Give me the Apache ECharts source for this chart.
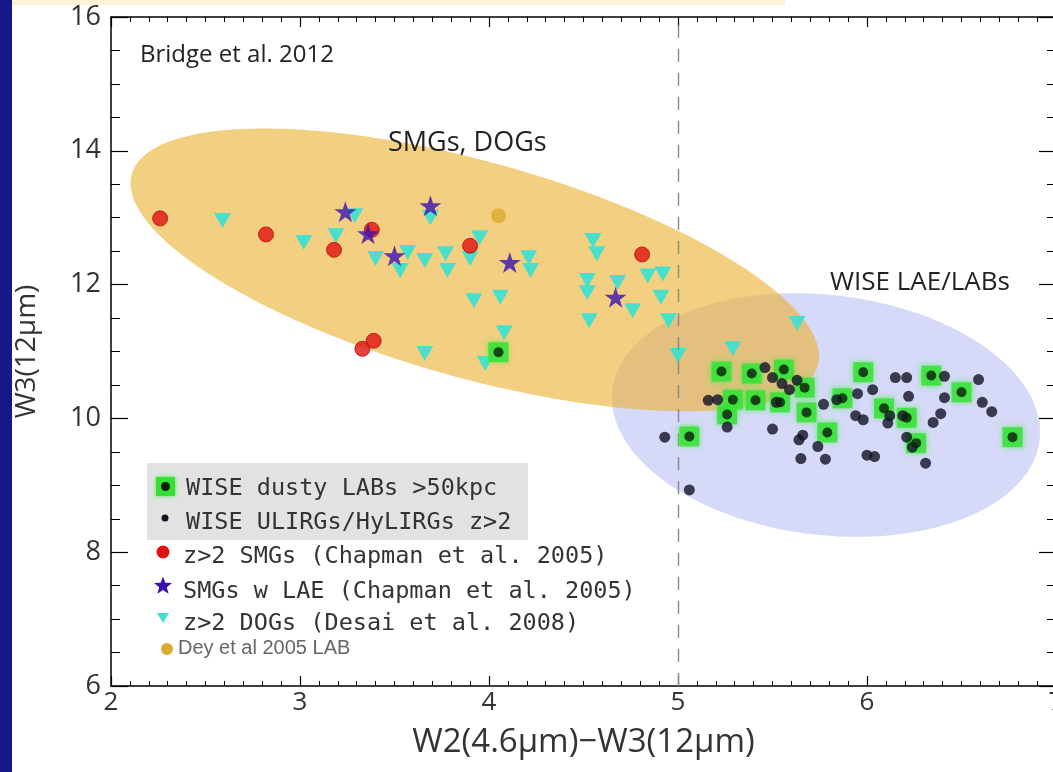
<!DOCTYPE html>
<html>
<head>
<meta charset="utf-8">
<script src="https://cdn.jsdelivr.net/npm/echarts@6/dist/echarts.min.js"></script>
<style>
  html, body { margin: 0; padding: 0; background: #fff; }
  #chart { width: 1053px; height: 772px; }
</style>
</head>
<body>
<div id="chart"></div>
<script>
// W2-W3 colour vs W3 magnitude (Bridge et al. 2012)

// Axis ranges and ticks
const xRange = [2, 7];
const yRange = [6, 16];
const xStep = 1;
const yStep = 2;
const colourCut = 5; // dashed W2-W3 divider

// Population regions: centre (x, y) and two conjugate semi-axis vectors, in data units
const regionLAE = [5.783, 10.05, 1.130, -0.375, -0.074, -1.782];
const regionSMG = [3.925, 12.22, 1.815, -1.43, -0.153, -1.556];

// WISE dusty LABs >50kpc
const dustyLABs = [
  [4.05, 10.99], [5.23, 10.70], [5.39, 10.67], [5.56, 10.73], [5.67, 10.46],
  [5.29, 10.28], [5.41, 10.27], [5.54, 10.24], [5.26, 10.06], [5.68, 10.09],
  [5.06, 9.73], [5.79, 9.79], [5.87, 10.30], [5.98, 10.69], [6.34, 10.64],
  [6.50, 10.39], [6.09, 10.15], [6.21, 10.01], [6.26, 9.63], [6.77, 9.72]
];

// WISE ULIRGs/HyLIRGs z>2
const wiseULIRGs = [
  [5.46, 10.76], [5.50, 10.61], [5.55, 10.52], [5.59, 10.43], [5.63, 10.57],
  [5.16, 10.27], [5.21, 10.28], [5.26, 9.87], [5.50, 9.84], [5.52, 10.24],
  [5.77, 10.21], [5.84, 10.28], [4.93, 9.72], [5.66, 9.75], [5.64, 9.68],
  [5.74, 9.58], [5.65, 9.40], [5.78, 9.39], [5.06, 8.93],
  [6.15, 10.61], [6.21, 10.61], [6.03, 10.43], [5.95, 10.37], [6.22, 10.33],
  [6.41, 10.63], [6.41, 10.31], [6.59, 10.58], [6.61, 10.24], [6.66, 10.10],
  [5.94, 10.04], [5.98, 9.98], [6.12, 10.04], [6.11, 9.93], [6.19, 10.04],
  [6.39, 10.07], [6.35, 9.94], [6.21, 9.72], [6.24, 9.57], [6.00, 9.45],
  [6.04, 9.43], [6.31, 9.33]
];

// z>2 SMGs (Chapman et al. 2005)
const chapmanSMGs = [
  [2.26, 12.99], [2.82, 12.75], [3.18, 12.52], [3.38, 12.82],
  [3.90, 12.58], [4.81, 12.45], [3.33, 11.04], [3.39, 11.16]
];

// SMGs with LAE (Chapman et al. 2005)
const smgLAEs = [
  [3.24, 13.09], [3.36, 12.76], [3.69, 13.18], [3.50, 12.43], [4.11, 12.33], [4.67, 11.81]
];

// z>2 DOGs (Desai et al. 2008)
const desaiDOGs = [
  [2.59, 12.96], [3.02, 12.63], [3.19, 12.73], [3.29, 13.03], [3.40, 12.39],
  [3.53, 12.21], [3.57, 12.48], [3.66, 12.36], [3.69, 13.00], [3.77, 12.46],
  [3.78, 12.21], [3.90, 12.39], [3.95, 12.70], [3.92, 11.76], [4.06, 11.81],
  [3.66, 10.97], [3.98, 10.82], [4.08, 11.28], [4.21, 12.40], [4.22, 12.21],
  [4.55, 12.66], [4.57, 12.46], [4.52, 12.06], [4.52, 11.88], [4.53, 11.46],
  [4.68, 12.03], [4.76, 11.61], [4.84, 12.13], [4.92, 12.16], [4.91, 11.81],
  [4.95, 11.46], [5.00, 10.94], [5.29, 11.04], [5.63, 11.42]
];

// Dey et al 2005 LAB
const deyLAB = [[4.05, 13.03]];

// Legend rows
const legendRows = [
  'WISE dusty LABs >50kpc',
  'WISE ULIRGs/HyLIRGs z>2',
  'z>2 SMGs (Chapman et al. 2005)',
  'SMGs w LAE (Chapman et al. 2005)',
  'z>2 DOGs (Desai et al. 2008)',
  'Dey et al 2005 LAB'
];

const STAR = 'path://M50,0 L61.2,34.5 L97.6,34.5 L68.2,55.9 L79.4,90.5 L50,69.1 L20.6,90.5 L31.8,55.9 L2.4,34.5 L38.8,34.5 Z';
const TRI_DOWN = 'path://M0,0 L100,0 L50,86 Z';
const SANS = '"Open Sans", "DejaVu Sans", sans-serif';
const LEG = '"DejaVu Sans Mono", monospace';

function ellipseItem(fill) {
  return function (params, api) {
    const cx = api.value(0), cy = api.value(1);
    const ax = api.value(2), ay = api.value(3);
    const bx = api.value(4), by = api.value(5);
    const pts = [];
    const n = 200;
    for (let i = 0; i < n; i++) {
      const t = (i / n) * Math.PI * 2;
      pts.push(api.coord([cx + ax * Math.cos(t) + bx * Math.sin(t),
                          cy + ay * Math.cos(t) + by * Math.sin(t)]));
    }
    return { type: 'polygon', shape: { points: pts }, style: { fill: fill } };
  };
}

// Five-pointed star outline around (cx, cy)
function starPoints(cx, cy, rOuter, rInner) {
  const pts = [];
  for (let i = 0; i < 10; i++) {
    const r = i % 2 === 0 ? rOuter : rInner;
    const a = -Math.PI / 2 + i * Math.PI / 5;
    pts.push([cx + r * Math.cos(a), cy + r * Math.sin(a)]);
  }
  return pts;
}

function baseX(pos, showLabels) {
  return {
    type: 'value', min: xRange[0], max: xRange[1], interval: xStep, position: pos,
    axisLine: { show: true, onZero: false, lineStyle: { color: '#000', width: 1.5 } },
    axisTick: { show: true, inside: true, length: 10, lineStyle: { color: '#000', width: 1.2 } },
    minorTick: { show: true, splitNumber: 10, length: 5, lineStyle: { color: '#000', width: 1 } },
    splitLine: { show: false },
    axisLabel: { show: showLabels, margin: 4, fontFamily: SANS, fontSize: 26, color: '#333',
                 showMinLabel: true, showMaxLabel: true, hideOverlap: false }
  };
}
function baseY(pos, showLabels) {
  return {
    type: 'value', min: yRange[0], max: yRange[1], interval: yStep, position: pos,
    axisLine: { show: true, onZero: false, lineStyle: { color: '#000', width: 1.5 } },
    axisTick: { show: true, inside: true, length: 17, lineStyle: { color: '#000', width: 1.2 } },
    minorTick: { show: true, splitNumber: 4, length: 9, lineStyle: { color: '#000', width: 1 } },
    splitLine: { show: false },
    axisLabel: { show: showLabels, margin: 10, fontFamily: SANS, fontSize: 27, color: '#333',
                 showMinLabel: true, showMaxLabel: true }
  };
}

const xMain = baseX('bottom', true);
Object.assign(xMain, {
  name: 'W2(4.6\u03bcm)\u2212W3(12\u03bcm)', nameLocation: 'middle', nameGap: 40,
  nameTextStyle: { fontFamily: SANS, fontSize: 33, color: '#333' }
});
const yMain = baseY('left', true);
Object.assign(yMain, {
  name: 'W3(12\u03bcm)', nameLocation: 'middle', nameGap: 70, nameRotate: 90,
  nameTextStyle: { fontFamily: SANS, fontSize: 28, color: '#333' }
});

// Legend drawn as graphic elements (icon + text per row)
const rowY = [487, 521, 555, 590, 622, 648];
const legendGraphics = [
  { type: 'rect', shape: { x: 147, y: 463, width: 381, height: 77 }, style: { fill: '#e2e2e2' }, z: 1 },
  { type: 'rect', shape: { x: 156, y: rowY[0] - 10, width: 19, height: 19 },
    style: { fill: '#35e035', shadowBlur: 4, shadowColor: '#4cf04c' }, z: 2 },
  { type: 'circle', shape: { cx: 165.5, cy: rowY[0] - 0.5, r: 4.5 }, style: { fill: '#0b1d0b' }, z: 3 },
  { type: 'circle', shape: { cx: 165, cy: rowY[1] - 3, r: 3.5 }, style: { fill: '#111122' }, z: 3 },
  { type: 'circle', shape: { cx: 163, cy: rowY[2] - 3, r: 6.5 }, style: { fill: '#e01010' }, z: 3 },
  { type: 'polygon', shape: { points: starPoints(163, rowY[3] - 4, 9.5, 4) }, style: { fill: '#3a10b0' }, z: 3 },
  { type: 'polygon', shape: { points: [[157, rowY[4] - 9], [169, rowY[4] - 9], [163, rowY[4] + 1]] },
    style: { fill: '#3fe0cf' }, z: 3 },
  { type: 'circle', shape: { cx: 167, cy: rowY[5] + 1, r: 6 }, style: { fill: '#d8aa30' }, z: 3 }
];
const textX = [186, 186, 183, 183, 183, 178];
legendRows.forEach((t, i) => {
  const last = i === legendRows.length - 1;
  legendGraphics.push({
    type: 'text', z: 3,
    style: {
      text: t, x: textX[i], y: rowY[i] + (last ? 0 : 2),
      fontFamily: last ? '"Liberation Sans", Arial, sans-serif' : LEG,
      fontSize: last ? 20 : 23.5, fontWeight: 'normal',
      fill: last ? '#666' : '#333', verticalAlign: 'middle', align: 'left'
    }
  });
});

const annotationGraphics = [
  { type: 'rect', shape: { x: 0, y: 0, width: 12, height: 772 }, style: { fill: '#17178c' }, z: 10 },
  { type: 'rect', shape: { x: 12, y: 0, width: 773, height: 5 }, style: { fill: '#faf3d4' }, z: 10 },
  { type: 'text', z: 3, style: { text: 'Bridge et al. 2012', x: 140, y: 55, fontFamily: SANS, fontSize: 24,
      fill: '#222', verticalAlign: 'middle' } },
  { type: 'text', z: 3, style: { text: 'SMGs, DOGs', x: 388, y: 143, fontFamily: SANS, fontSize: 27,
      fill: '#222', verticalAlign: 'middle' } },
  { type: 'text', z: 3, style: { text: 'WISE LAE/LABs', x: 830, y: 283, fontFamily: SANS, fontSize: 26,
      fill: '#222', verticalAlign: 'middle' } }
];

const chart = echarts.init(document.getElementById('chart'), null, { renderer: 'canvas' });
chart.setOption({
  animation: false,
  backgroundColor: '#fff',
  grid: { left: 111, right: -3, top: 17, bottom: 86, containLabel: false, outerBoundsMode: 'none' },
  xAxis: [xMain, baseX('top', false)],
  yAxis: [yMain, baseY('right', false)],
  graphic: legendGraphics.concat(annotationGraphics),
  series: [
    { type: 'custom', name: 'WISE LAE/LABs', data: [regionLAE], encode: { x: 0, y: 1 },
      renderItem: ellipseItem('#d6d9f8'), z: 1, silent: true,
      markLine: {
        silent: true, symbol: ['none', 'none'], label: { show: false },
        lineStyle: { type: [13, 11], color: '#888', width: 1.4 },
        data: [{ xAxis: colourCut }]
      } },
    { type: 'custom', name: 'SMGs, DOGs', data: [regionSMG], encode: { x: 0, y: 1 },
      renderItem: ellipseItem('rgba(235,175,45,0.6)'), z: 1, silent: true },
    { type: 'scatter', name: legendRows[4], data: desaiDOGs, symbol: TRI_DOWN, symbolSize: [17, 15],
      itemStyle: { color: '#3fe0cf', opacity: 0.95 }, z: 3 },
    { type: 'scatter', name: legendRows[2], data: chapmanSMGs, symbol: 'circle', symbolSize: 15,
      itemStyle: { color: '#e01010', borderColor: '#b80c0c', borderWidth: 1 }, z: 4 },
    { type: 'scatter', name: legendRows[3], data: smgLAEs, symbol: STAR, symbolSize: [22, 21],
      itemStyle: { color: '#3a10b0' }, z: 5 },
    { type: 'scatter', name: legendRows[5], data: deyLAB, symbol: 'circle', symbolSize: 15,
      itemStyle: { color: '#d8aa30' }, z: 5 },
    { type: 'scatter', name: legendRows[0], data: dustyLABs, symbol: 'rect', symbolSize: 20,
      itemStyle: { color: '#35e035', shadowBlur: 6, shadowColor: '#4cf04c' }, z: 6 },
    { type: 'scatter', name: legendRows[1], data: wiseULIRGs, symbol: 'circle', symbolSize: 11,
      itemStyle: { color: '#111126' }, z: 7 },
    { type: 'scatter', name: 'LAB cores', data: dustyLABs, symbol: 'circle', symbolSize: 10,
      itemStyle: { color: '#0b1d0b' }, z: 8 }
  ]
});
</script>
</body>
</html>
